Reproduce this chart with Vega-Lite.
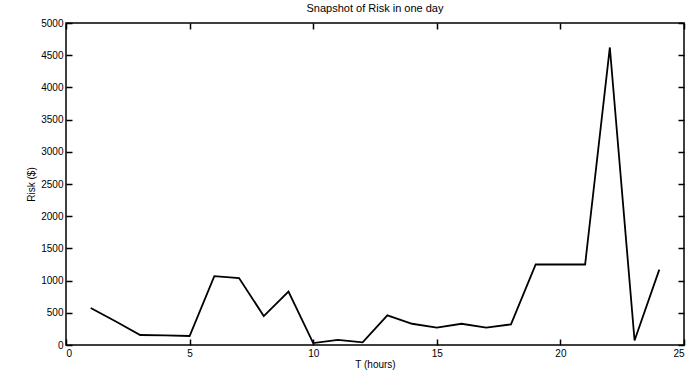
{
  "$schema": "https://vega.github.io/schema/vega-lite/v6.json",
  "autosize": "none",
  "width": 618,
  "height": 322,
  "padding": {"left": 66, "top": 23, "right": 4, "bottom": 28},
  "background": "white",
  "title": {"text": "Snapshot of Risk in one day", "font": "Liberation Sans", "fontSize": 11, "fontWeight": "normal", "color": "black", "offset": 4},
  "config": {
    "view": {"stroke": "black", "strokeWidth": 1.5},
    "axis": {"labelFont": "Liberation Sans", "titleFont": "Liberation Sans", "labelFontSize": 10, "titleFontSize": 10, "titleFontWeight": "normal", "labelColor": "black", "titleColor": "black", "grid": false, "zindex": 1}
  },
  "data": {"values": [
    {"t": 1, "risk": 575},
    {"t": 2, "risk": 370},
    {"t": 3, "risk": 155},
    {"t": 4, "risk": 150},
    {"t": 5, "risk": 140},
    {"t": 6, "risk": 1070},
    {"t": 7, "risk": 1040},
    {"t": 8, "risk": 450},
    {"t": 9, "risk": 830},
    {"t": 10, "risk": 30},
    {"t": 11, "risk": 80},
    {"t": 12, "risk": 40},
    {"t": 13, "risk": 460},
    {"t": 14, "risk": 330},
    {"t": 15, "risk": 270},
    {"t": 16, "risk": 330},
    {"t": 17, "risk": 270},
    {"t": 18, "risk": 320},
    {"t": 19, "risk": 1250},
    {"t": 20, "risk": 1250},
    {"t": 21, "risk": 1250},
    {"t": 22, "risk": 4620},
    {"t": 23, "risk": 70},
    {"t": 24, "risk": 1170}
  ]},
  "layer": [
    {
      "mark": {"type": "line", "color": "black", "strokeWidth": 1.8},
      "encoding": {
        "x": {"field": "t", "type": "quantitative", "scale": {"domain": [0, 25], "nice": false}, "axis": {"title": "T (hours)", "format": "d", "values": [0, 5, 10, 15, 20, 25], "domain": false, "ticks": true, "tickSize": 6, "tickWidth": 1.5, "tickColor": "black", "offset": -6, "labelPadding": 3, "titlePadding": 1}},
        "y": {"field": "risk", "type": "quantitative", "scale": {"domain": [0, 5000], "nice": false}, "axis": {"title": "Risk ($)", "format": "d", "values": [0, 500, 1000, 1500, 2000, 2500, 3000, 3500, 4000, 4500, 5000], "domain": false, "ticks": true, "tickSize": 6, "tickWidth": 1.5, "tickColor": "black", "offset": -6, "labelPadding": 3, "titlePadding": 4}}
      }
    },
    {
      "mark": {"type": "line", "opacity": 0},
      "encoding": {
        "x": {"field": "t", "type": "quantitative", "axis": {"orient": "top", "title": null, "labels": false, "domain": false, "ticks": true, "tickSize": 6, "tickWidth": 1.5, "tickColor": "black", "offset": -6, "values": [0, 5, 10, 15, 20, 25]}},
        "y": {"field": "risk", "type": "quantitative", "axis": {"orient": "right", "title": null, "labels": false, "domain": false, "ticks": true, "tickSize": 6, "tickWidth": 1.5, "tickColor": "black", "offset": -6, "values": [0, 500, 1000, 1500, 2000, 2500, 3000, 3500, 4000, 4500, 5000]}}
      }
    }
  ],
  "resolve": {"axis": {"x": "independent", "y": "independent"}}
}
